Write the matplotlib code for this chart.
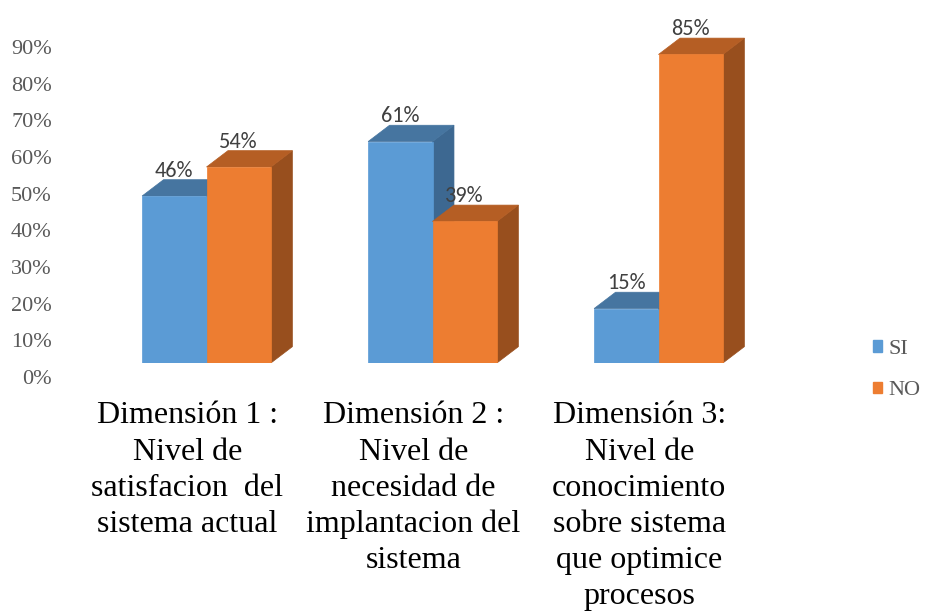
import matplotlib.pyplot as plt
from matplotlib import font_manager
from matplotlib.font_manager import FontProperties
from matplotlib.patches import Polygon, Patch

categorias = ["Dimensión 1 :\nNivel de\nsatisfacion  del\nsistema actual",
              "Dimensión 2 :\nNivel de\nnecesidad de\nimplantacion del\nsistema",
              "Dimensión 3:\nNivel de\nconocimiento\nsobre sistema\nque optimice\nprocesos"]
si = [46, 61, 15]
no = [54, 39, 85]
series = ["SI", "NO"]

# front / top / side shades for each series
colores = {
    "SI": ("#5B9BD5", "#4675A0", "#3D6891"),
    "NO": ("#ED7D31", "#B55E24", "#984F1E"),
}


def fuente(archivo, size):
    for f in font_manager.fontManager.ttflist:
        if f.fname.endswith(archivo):
            return FontProperties(fname=f.fname, size=size)
    return FontProperties(family="serif", size=size)


serif_cat = fuente("LiberationSerif-Regular.ttf", 23)
serif_eje = fuente("LiberationSerif-Regular.ttf", 16)
serif_ley = fuente("LiberationSerif-Regular.ttf", 16)
etiqueta = fuente("Carlito-Regular.ttf", 16)

W, H = 938, 613
fig = plt.figure(figsize=(W / 100, H / 100), dpi=100)

# main drawing area: value 0 sits at the bars' base, 100 at the top edge
ax = fig.add_axes([0, (H - 363) / H, 1, 363 / H])
ax.set_xlim(-206.5 / 226, (W - 206.5) / 226)
ax.set_ylim(0, 100)
ax.axis("off")

ancho = 0.285    # bar width in category units
dx, dy = 0.095, 4.5   # depth offset of the 3D box


def barra3d(x0, alto, serie):
    frente, arriba, lado = colores[serie]
    x1 = x0 + ancho
    side = Polygon([(x1, 0), (x1 + dx, dy), (x1 + dx, alto + dy), (x1, alto)],
                   closed=True, fc=lado, ec=lado, lw=0.5)
    top = Polygon([(x0, alto), (x0 + dx, alto + dy), (x1 + dx, alto + dy), (x1, alto)],
                  closed=True, fc=arriba, ec=arriba, lw=0.5)
    front = Polygon([(x0, 0), (x0, alto), (x1, alto), (x1, 0)],
                    closed=True, fc=frente, ec=frente, lw=0.5)
    for p in (side, top, front):
        ax.add_patch(p)
    ax.text(x0 + ancho / 2, alto + dy + 2.5, f"{alto}%", ha="center", va="center",
            fontproperties=etiqueta, color="#404040")


for i in range(len(categorias)):
    barra3d(i - ancho, si[i], "SI")
    barra3d(i, no[i], "NO")
    ax.text(i - 0.085, -10.6, categorias[i], ha="center", va="top",
            fontproperties=serif_cat, color="black",
            linespacing=1.32, clip_on=False)

# value axis labels
axv = fig.add_axes([56 / W, (H - 377) / H, 0.001, 330 / H])
axv.set_ylim(0, 0.9)
ticks = [i / 10 for i in range(10)]
axv.set_yticks(ticks)
axv.set_yticklabels([f"{int(round(t * 100))}%" for t in ticks],
                    fontproperties=serif_eje, color="#595959")
axv.tick_params(axis="y", length=0, pad=3)
axv.set_xticks([])
for s in axv.spines.values():
    s.set_visible(False)
axv.patch.set_alpha(0)

handles = [Patch(fc=colores[s][0], ec=colores[s][0]) for s in series]
fig.legend(handles, series, loc="center left", bbox_to_anchor=(873 / W, 1 - 370 / H),
           frameon=False, borderpad=0, borderaxespad=0, handlelength=0.4, handleheight=0.4,
           handletextpad=0.3, labelspacing=1.0,
           prop=serif_ley, labelcolor="#595959")

fig.savefig("out.png", dpi=100)
